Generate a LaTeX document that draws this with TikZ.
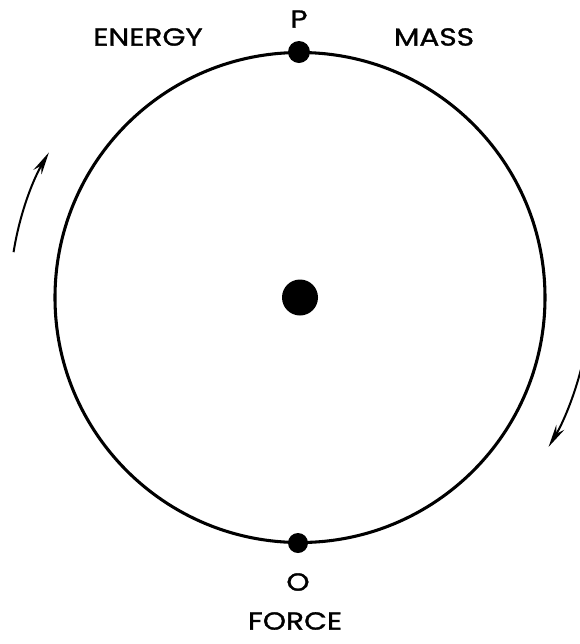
\documentclass[tikz,border=0pt]{standalone}
\usepackage{fontspec}
\setmainfont{Poppins}[FakeStretch=1.2,FakeBold=1.2]
\usetikzlibrary{arrows.meta}
\begin{document}
\begin{tikzpicture}[x=0.75pt,y=-0.75pt,
  lbl/.style={font=\fontsize{18.5}{20}\selectfont, inner sep=0pt},
  orbit/.style={line width=2.3pt},
  motion/.style={line width=1.5pt, -{Stealth[length=17pt,width=7pt]}}]
\useasboundingbox (0,0) rectangle (580,644);
\coordinate (c) at (300,297.5);
\draw[orbit] (c) circle[radius=245];
\fill (c) circle[radius=18];
\node[circle, fill, inner sep=0pt, minimum size=16.5pt] (p) at (299,52) {};
\node[circle, fill, inner sep=0pt, minimum size=15pt] (o) at (298,543) {};
\node[lbl] (plbl) at (299,19) {P};
\node[lbl] (olbl) at (298,582) {O};
\node[lbl] (energy) at (148,37) {ENERGY};
\node[lbl] (mass) at (434,37) {MASS};
\node[lbl] (force) at (295,621) {FORCE};
\draw[motion] ([shift={(-171:290)}]c) arc[start angle=-171, end angle=-150, radius=290];
\draw[motion] ([shift={(14:290)}]c) arc[start angle=14, end angle=31, radius=290];
\end{tikzpicture}
\end{document}
